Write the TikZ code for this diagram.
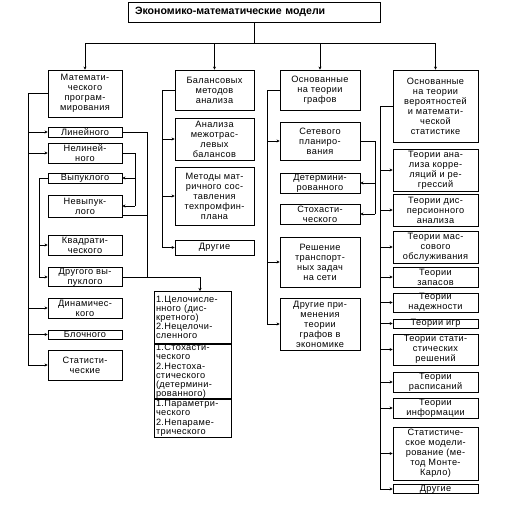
\documentclass[tikz,border=0pt]{standalone}
\usepackage{fontspec}
\setmainfont{Liberation Sans}
\newfontfamily\boxfont{Liberation Sans}[LetterSpace=4]
\usepackage{tikz}
\usetikzlibrary{arrows.meta}

\begin{document}
\begin{tikzpicture}[
    x=1pt, y=-1pt,
    line width=0.8pt,
    item/.style={
        draw,
        font=\boxfont\fontsize{9.2}{10}\selectfont,
        align=center,
        inner sep=0pt
    },
    col1/.style={item, minimum width=74pt},
    col2/.style={item, minimum width=79pt},
    col3/.style={item, minimum width=80pt},
    col4/.style={item, minimum width=85pt},
    sect/.style={
        item,
        font=\boxfont\fontsize{9.2}{9.2}\selectfont,
        align=left,
        text width=73pt,
        minimum width=77pt
    },
    link/.style={-{Stealth[length=3pt,width=3pt]}}
]

\useasboundingbox (0,0) rectangle (506,507);

% ============================================================
% Title
% ============================================================

\node[draw, font=\bfseries\fontsize{10.6}{12}\selectfont, align=left,
      text width=238pt, inner xsep=7pt, minimum height=20pt] (title) at (254,12)
    {Экономико-математические модели};

% ============================================================
% Column 1: mathematical programming
% ============================================================

\node[col1, minimum height=47pt] (c1) at (85,93.5)
    {Математи-\\ческого\\програм-\\мирования};
\node[col1, minimum height=10pt] (lin) at (85,132) {Линейного};
\node[col1, minimum height=20pt] (nelin) at (85,153) {Нелиней-\\ного};
\node[col1, minimum height=10pt] (vyp) at (85,178) {Выпуклого};
\node[col1, minimum height=22pt] (nevyp) at (85,206) {Невыпук-\\лого};
\node[col1, minimum height=20pt] (kvadr) at (85,245) {Квадрати-\\ческого};
\node[col1, minimum height=18pt] (drug) at (85,277) {Другого вы-\\пуклого};
\node[col1, minimum height=20pt] (dinam) at (85,308) {Динамичес-\\кого};
\node[col1, minimum height=9pt] (bloch) at (85,334.5) {Блочного};
\node[col1, minimum height=30pt] (stat) at (85,365) {Статисти-\\ческие};

% classification box
\node[sect, minimum height=52pt, anchor=north] (cls1) at (192.5,291)
    {1.Целочисле-\\нного (дис-\\кретного)\\2.Нецелочи-\\сленного};
\node[sect, minimum height=53pt, anchor=north] (cls2) at (cls1.south)
    {1.Стохасти-\\ческого\\2.Нестоха-\\стического\\(детермини-\\рованного)};
\node[sect, minimum height=38pt, anchor=north] (cls3) at (cls2.south)
    {1.Параметри-\\ческого\\2.Непараме-\\трического};

% ============================================================
% Column 2: balance methods
% ============================================================

\node[col2, minimum height=40pt] (c2) at (214.5,90)
    {Балансовых\\методов\\анализа};
\node[col2, minimum height=42pt] (mezh) at (214.5,139)
    {Анализа\\межотрас-\\левых\\балансов};
\node[col2, minimum height=58pt] (matr) at (214.5,196)
    {Методы мат-\\ричного сос-\\тавления\\техпромфин-\\плана};
\node[col2, minimum height=15pt] (dr2) at (214.5,247.5) {Другие};

% ============================================================
% Column 3: graph theory
% ============================================================

\node[col3, minimum height=40pt] (c3) at (320,90)
    {Основанные\\на теории\\графов};
\node[col3, minimum height=38pt] (set) at (320,141)
    {Сетевого\\планиро-\\вания};
\node[col3, minimum height=20pt] (det) at (320,183)
    {Детермини-\\рованного};
\node[col3, minimum height=20pt] (stoh) at (320,214)
    {Стохасти-\\ческого};
\node[col3, minimum height=50pt] (resh) at (320,262)
    {Решение\\транспорт-\\ных задач\\на сети};
\node[col3, minimum height=52pt] (drapp) at (320,324)
    {Другие при-\\менения\\теории\\графов в\\экономике};

% ============================================================
% Column 4: probability and statistics
% ============================================================

\node[col4, minimum height=72pt] (c4) at (435.5,106)
    {Основанные\\на теории\\вероятностей\\и математи-\\ческой\\статистике};
\node[col4, minimum height=42pt] (korr) at (435.5,170)
    {Теории ана-\\лиза корре-\\ляций и ре-\\грессий};
\node[col4, minimum height=32pt] (disp) at (435.5,210)
    {Теории дис-\\персионного\\анализа};
\node[col4, minimum height=32pt] (mass) at (435.5,247)
    {Теории мас-\\сового\\обслуживания};
\node[col4, minimum height=20pt] (zap) at (435.5,277) {Теории\\запасов};
\node[col4, minimum height=19pt] (nad) at (435.5,302.5) {Теории\\надежности};
\node[col4, minimum height=9pt] (igr) at (435.5,323.5) {Теории игр};
\node[col4, minimum height=31pt] (statr) at (435.5,349.5)
    {Теории стати-\\стических\\решений};
\node[col4, minimum height=20pt] (rasp) at (435.5,382) {Теории\\расписаний};
\node[col4, minimum height=20pt] (inf) at (435.5,408) {Теории\\информации};
\node[col4, minimum height=53pt] (monte) at (435.5,453.5)
    {Статистиче-\\ское модели-\\рование (ме-\\тод Монте-\\Карло)};
\node[col4, minimum height=8pt] (dr4) at (435.5,489) {Другие};

% ============================================================
% Connectors
% ============================================================

\coordinate (top) at (254,43);
\coordinate (t1) at (28,0);
\coordinate (t1b) at (39,0);
\coordinate (r1a) at (135,0);
\coordinate (r1b) at (147,0);
\coordinate (t2) at (162,0);
\coordinate (t3) at (267,0);
\coordinate (r3) at (375,0);
\coordinate (t4) at (380,0);

\draw (title.south) -- (top);
\foreach \n in {c1,c2,c3,c4}
    \draw[link] (top) -| (\n.north);

% column 1
\draw (c1.west) -- (c1.west -| t1) -- (stat.west -| t1);
\foreach \n in {lin,nelin,dinam,bloch,stat}
    \draw[link] (\n.west -| t1) -- (\n.west);
\draw (vyp.west) -- (vyp.west -| t1b) -- (drug.west -| t1b);
\foreach \n in {kvadr,drug}
    \draw[link] (\n.west -| t1b) -- (\n.west);
\draw (nelin.east) -- (nelin.east -| r1a) -- (nevyp.east -| r1a);
\foreach \n in {vyp,nevyp}
    \draw[link] (\n.east -| r1a) -- (\n.east);
\draw (lin.east) -- (lin.east -| r1b) -- (drug.east -| r1b);
\draw ([yshift=2pt]nevyp.south east) -- ([yshift=2pt]nevyp.south east -| r1b);
\draw[link] (drug.east) -| ([xshift=7.5pt]cls1.north);

% column 2
\draw (c2.west) -- (c2.west -| t2) -- (dr2.west -| t2);
\foreach \n in {mezh,matr,dr2}
    \draw[link] (\n.west -| t2) -- (\n.west);

% column 3
\draw (c3.west) -- (c3.west -| t3) -- (drapp.west -| t3);
\foreach \n in {set,resh,drapp}
    \draw[link] (\n.west -| t3) -- (\n.west);
\draw (set.east) -- (set.east -| r3) -- (stoh.east -| r3);
\foreach \n in {det,stoh}
    \draw[link] (\n.east -| r3) -- (\n.east);

% column 4
\draw (c4.west) -- (c4.west -| t4) -- (dr4.west -| t4);
\foreach \n in {korr,disp,mass,zap,nad,igr,statr,rasp,inf,monte,dr4}
    \draw[link] (\n.west -| t4) -- (\n.west);

\end{tikzpicture}
\end{document}
